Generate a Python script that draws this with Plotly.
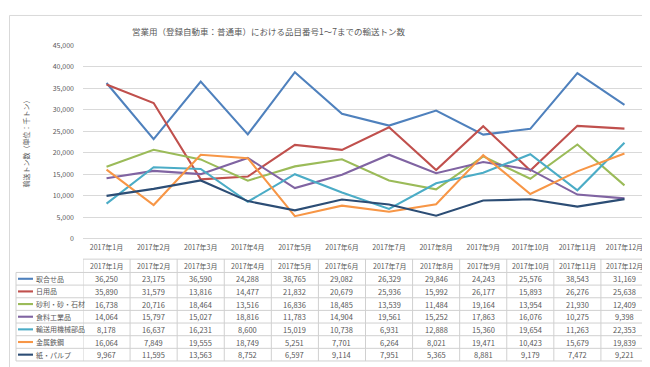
import plotly.graph_objects as go

categories = ["2017年1月", "2017年2月", "2017年3月", "2017年4月", "2017年5月", "2017年6月",
              "2017年7月", "2017年8月", "2017年9月", "2017年10月", "2017年11月", "2017年12月"]

series_names = ["取合せ品", "日用品", "砂利・砂・石材", "食料工業品", "輸送用機械部品", "金属鉄鋼", "紙・パルプ"]

toriawase = [36250, 23175, 36590, 24288, 38765, 29082, 26329, 29846, 24243, 25576, 38543, 31169]
nichiyou = [35890, 31579, 13816, 14477, 21832, 20679, 25936, 15992, 26177, 15893, 26276, 25638]
jari = [16738, 20716, 18464, 13516, 16836, 18485, 13539, 11484, 19164, 13954, 21930, 12409]
shokuryou = [14064, 15797, 15027, 18816, 11783, 14904, 19561, 15252, 17863, 16076, 10275, 9398]
yusou = [8178, 16637, 16231, 8600, 15019, 10738, 6931, 12888, 15360, 19654, 11263, 22353]
kinzoku = [16064, 7849, 19555, 18749, 5251, 7701, 6264, 8021, 19471, 10423, 15679, 19839]
kami = [9967, 11595, 13563, 8752, 6597, 9114, 7951, 5365, 8881, 9179, 7472, 9221]

series_values = [toriawase, nichiyou, jari, shokuryou, yusou, kinzoku, kami]
colors = ["#4F81BD", "#C0504D", "#9BBB59", "#8064A2", "#4BACC6", "#F79646", "#2C4D75"]

title_text = "営業用（登録自動車：普通車）における品目番号1～7までの輸送トン数"
y_title = "輸送トン数（単位：千トン）"

W, H = 650, 367
FONT = "Noto Sans CJK JP"
TXT = "#595959"
GRID = "#D9D9D9"


def py(p):
    return 1 - p / H


def px(p):
    return p / W


fig = go.Figure()
for name, vals, c in zip(series_names, series_values, colors):
    fig.add_trace(go.Scatter(x=categories, y=vals, name=name, mode="lines",
                             line=dict(color=c, width=2.1), showlegend=False))

shapes = []
annotations = []

# outer chart border
shapes.append(dict(type="rect", xref="paper", yref="paper", x0=px(1.5), x1=px(648.5),
                   y0=py(365.5), y1=py(1.5), line=dict(color=GRID, width=1)))

# table geometry (pixel rows)
header_top, header_bot = 252, 265.7
row_h = 13.0
n = len(series_names)
rows_bot = header_bot + row_h * n
line_c = "#D0D0D0"

# horizontal lines
shapes.append(dict(type="line", xref="x", yref="paper", x0=-0.5, x1=len(categories) - 0.5,
                   y0=py(header_top), y1=py(header_top), line=dict(color=line_c, width=1)))
for i in range(n + 1):
    yy = header_bot + row_h * i
    shapes.append(dict(type="line", xref="paper", yref="paper", x0=px(8), x1=px(640),
                       y0=py(yy), y1=py(yy), line=dict(color=line_c, width=1)))
# vertical lines
shapes.append(dict(type="line", xref="paper", yref="paper", x0=px(8), x1=px(8),
                   y0=py(header_bot), y1=py(rows_bot), line=dict(color=line_c, width=1)))
for k in range(len(categories) + 1):
    xx = k - 0.5
    shapes.append(dict(type="line", xref="x", yref="paper", x0=xx, x1=xx,
                       y0=py(header_top), y1=py(rows_bot), line=dict(color=line_c, width=1)))

# header labels
for c in categories:
    annotations.append(dict(x=c, y=py((header_top + header_bot) / 2), xref="x", yref="paper",
                            text=c, showarrow=False, font=dict(size=7, color=TXT, family=FONT),
                            xanchor="center", yanchor="middle"))

# rows
for i, (name, vals, col) in enumerate(zip(series_names, series_values, colors)):
    yc = header_bot + row_h * i + row_h / 2
    shapes.append(dict(type="line", xref="paper", yref="paper", x0=px(10), x1=px(25),
                       y0=py(yc), y1=py(yc), line=dict(color=col, width=2.1)))
    annotations.append(dict(x=px(25.5), y=py(yc), xref="paper", yref="paper", text=name,
                            showarrow=False, font=dict(size=7, color=TXT, family=FONT),
                            xanchor="left", yanchor="middle"))
    for c, v in zip(categories, vals):
        annotations.append(dict(x=c, y=py(yc), xref="x", yref="paper", text=f"{v:,}",
                                showarrow=False, font=dict(size=7.5, color=TXT, family=FONT),
                                xanchor="center", yanchor="middle"))

# title
annotations.append(dict(x=px(260), y=py(17), xref="paper", yref="paper", text=title_text,
                        showarrow=False, font=dict(size=8.5, color=TXT, family=FONT),
                        xanchor="center", yanchor="middle"))
# y title
annotations.append(dict(x=px(18), y=py(132), xref="paper", yref="paper", text=y_title,
                        showarrow=False, textangle=-90, font=dict(size=7, color=TXT, family=FONT),
                        xanchor="center", yanchor="middle"))

fig.update_layout(
    width=W, height=H,
    margin=dict(l=0, r=0, t=0, b=0),
    paper_bgcolor="white", plot_bgcolor="white",
    shapes=shapes, annotations=annotations,
    xaxis=dict(domain=[px(75), px(640)], type="category", range=[-0.5, len(categories) - 0.5],
               showgrid=False, showline=False, zeroline=False, ticks="",
               tickfont=dict(size=7, color=TXT, family=FONT), ticklabelstandoff=3),
    yaxis=dict(domain=[py(231), py(32.3)], range=[0, 45000], dtick=5000,
               tickformat=",d", showgrid=True, gridcolor=GRID, gridwidth=1,
               zeroline=True, zerolinecolor=GRID, zerolinewidth=1,
               showline=False, ticks="", ticklabelstandoff=8,
               tickfont=dict(size=7, color=TXT, family=FONT)),
)

fig.write_html("out.html")
